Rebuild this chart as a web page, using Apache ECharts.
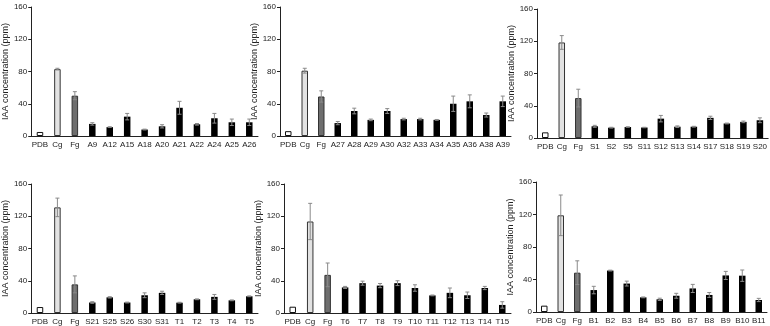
<!DOCTYPE html>
<html>
<head>
<meta charset="utf-8">
<script src="https://cdn.jsdelivr.net/npm/echarts@6/dist/echarts.min.js"></script>
<style>
  html, body { margin: 0; padding: 0; background: #fff; }
  #chart { width: 770px; height: 326px; }
</style>
</head>
<body>
<div id="chart"></div>
<script>
// categories, means and error bars for each of the six panels
var cats1 = ['PDB', 'Cg', 'Fg', 'A9', 'A12', 'A15', 'A18', 'A20', 'A21', 'A22', 'A24', 'A25', 'A26'];
var vals1 = [5, 83, 50, 15, 11, 24, 8, 12, 35, 14.5, 22, 17, 17];
var errs1 = [0, 1, 5, 1.5, 0.5, 4, 0.5, 2, 8, 1, 6, 4, 4];

var cats2 = ['PDB', 'Cg', 'Fg', 'A27', 'A28', 'A29', 'A30', 'A32', 'A33', 'A34', 'A35', 'A36', 'A38', 'A39'];
var vals2 = [6, 81, 49, 16, 31, 20, 31, 21, 21, 20, 40, 43, 26, 43];
var errs2 = [0, 3, 7, 2, 3.5, 1, 3, 1, 1, 0.5, 9.5, 8, 2.5, 6.5];

var cats3 = ['PDB', 'Cg', 'Fg', 'S1', 'S2', 'S5', 'S11', 'S12', 'S13', 'S14', 'S17', 'S18', 'S19', 'S20'];
var vals3 = [7, 118.5, 49.5, 14.5, 12.8, 13.6, 13, 24, 14, 14, 25, 18, 20, 22];
var errs3 = [0, 8.5, 11, 1.2, 0.5, 0.3, 0.3, 4, 1, 0.5, 2, 0.5, 1, 3];

var cats4 = ['PDB', 'Cg', 'Fg', 'S21', 'S25', 'S26', 'S30', 'S31', 'T1', 'T2', 'T3', 'T4', 'T5'];
var vals4 = [7.4, 131, 35.5, 13, 19.4, 13, 22, 25, 12.8, 17, 20, 15.7, 20.7];
var errs4 = [0, 11.5, 10.5, 1, 0.8, 0.5, 3, 2, 0.5, 0.5, 3, 0.5, 0.5];

var cats5 = ['PDB', 'Cg', 'Fg', 'T6', 'T7', 'T8', 'T9', 'T10', 'T11', 'T12', 'T13', 'T14', 'T15'];
var vals5 = [7.8, 113.5, 47.3, 31.7, 37, 34, 37, 31, 21.8, 25, 22, 31, 10];
var errs5 = [0, 22.5, 14.7, 1.3, 2.5, 2.6, 3, 4, 0.5, 6, 4, 2, 4];

var cats6 = ['PDB', 'Cg', 'Fg', 'B1', 'B2', 'B3', 'B4', 'B5', 'B6', 'B7', 'B8', 'B9', 'B10', 'B11'];
var vals6 = [7.8, 119, 48.4, 27, 51, 35, 18, 15.6, 20, 29, 21, 45, 44.7, 14.8];
var errs6 = [0, 25, 14.6, 4.6, 0.5, 3, 0.5, 1.4, 3, 5, 3, 5, 7, 2];

var panels = [
    {cats: cats1, vals: vals1, errs: errs1, left: 30, top: 7, width: 228, height: 129},
    {cats: cats2, vals: vals2, errs: errs2, left: 280, top: 7, width: 231, height: 129},
    {cats: cats3, vals: vals3, errs: errs3, left: 537, top: 9, width: 232, height: 129},
    {cats: cats4, vals: vals4, errs: errs4, left: 30, top: 184, width: 228, height: 129},
    {cats: cats5, vals: vals5, errs: errs5, left: 284, top: 184, width: 227, height: 129},
    {cats: cats6, vals: vals6, errs: errs6, left: 536, top: 182, width: 231, height: 130}
];

var font = 'Liberation Sans, Arial, sans-serif';

// PDB white, Cg light grey, Fg dark grey, isolates black
function barStyle(i) {
    if (i === 0) return {color: '#ffffff', borderColor: '#111', borderWidth: 1};
    if (i === 1) return {color: '#e2e2e2', borderColor: '#333', borderWidth: 1};
    if (i === 2) return {color: '#6e6e6e', borderColor: '#333', borderWidth: 1};
    return {color: '#000000'};
}

function errorBar(params, api) {
    var e = api.value(2);
    if (!e) return null;
    var x = api.value(0), v = api.value(1);
    var hi = api.coord([x, v + e]);
    var lo = api.coord([x, v - e]);
    var style = {stroke: '#8a8a8a', lineWidth: 1};
    return {
        type: 'group',
        children: [
            {type: 'line', shape: {x1: hi[0], y1: hi[1], x2: lo[0], y2: lo[1]}, style: style},
            {type: 'line', shape: {x1: hi[0] - 2, y1: hi[1], x2: hi[0] + 2, y2: hi[1]}, style: style},
            {type: 'line', shape: {x1: lo[0] - 2, y1: lo[1], x2: lo[0] + 2, y2: lo[1]}, style: style}
        ]
    };
}

var grids = [], xAxes = [], yAxes = [], series = [];

panels.forEach(function(p, k) {
    grids.push({left: p.left, top: p.top, width: p.width, height: p.height});

    xAxes.push({
        type: 'category',
        gridIndex: k,
        data: p.cats,
        axisLine: {lineStyle: {color: '#222', width: 1}},
        axisTick: {length: 3, lineStyle: {color: '#222'}},
        axisLabel: {interval: 0, fontSize: 8, color: '#222', margin: 5, fontFamily: font}
    });

    yAxes.push({
        type: 'value',
        gridIndex: k,
        min: 0,
        max: 160,
        interval: 40,
        name: 'IAA concentration (ppm)',
        nameLocation: 'middle',
        nameGap: 18,
        nameTextStyle: {fontSize: 9, color: '#222', fontFamily: font},
        axisLine: {show: true, lineStyle: {color: '#222', width: 1}},
        axisTick: {show: true, length: 3, lineStyle: {color: '#222'}},
        axisLabel: {fontSize: 8, color: '#222', margin: 4, fontFamily: font},
        splitLine: {show: false}
    });

    series.push({
        type: 'bar',
        xAxisIndex: k,
        yAxisIndex: k,
        barWidth: 6.5,
        data: p.vals.map(function(v, i) {
            return {value: v, itemStyle: barStyle(i)};
        }),
        silent: true,
        animation: false
    });

    series.push({
        type: 'custom',
        xAxisIndex: k,
        yAxisIndex: k,
        renderItem: errorBar,
        encode: {x: 0, y: 1},
        data: p.vals.map(function(v, i) { return [i, v, p.errs[i]]; }),
        z: 3,
        silent: true,
        animation: false
    });
});

var chart = echarts.init(document.getElementById('chart'));
chart.setOption({
    animation: false,
    backgroundColor: '#fff',
    grid: grids,
    xAxis: xAxes,
    yAxis: yAxes,
    series: series
});
</script>
</body>
</html>
